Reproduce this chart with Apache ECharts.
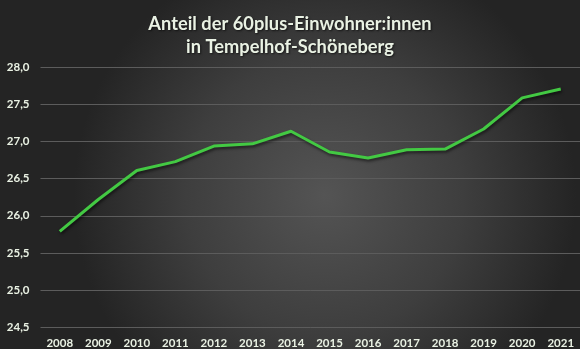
<!DOCTYPE html>
<html>
<head>
<meta charset="utf-8">
<script src="https://cdn.jsdelivr.net/npm/echarts@6/dist/echarts.min.js"></script>
<style>
  html, body { margin: 0; padding: 0; background: #2a2a2a; }
  #chart { width: 580px; height: 349px; }
</style>
</head>
<body>
<div id="chart"></div>
<script>
// Jahre und Anteil der Einwohner:innen ab 60 Jahren (in %)
const years = ['2008', '2009', '2010', '2011', '2012', '2013', '2014',
               '2015', '2016', '2017', '2018', '2019', '2020', '2021'];
const share60plus = [25.79, 26.22, 26.61, 26.73, 26.94, 26.97, 27.14,
                     26.86, 26.78, 26.89, 26.90, 27.17, 27.59, 27.71];
const titleLines = ['Anteil der 60plus-Einwohner:innen', 'in Tempelhof-Schöneberg'];

const textColor = '#eaf2e4';
const chart = echarts.init(document.getElementById('chart'), null, { renderer: 'canvas' });

chart.setOption({
  animation: false,
  backgroundColor: {
    type: 'radial', x: 0.56, y: 0.56, r: 0.72,
    colorStops: [
      { offset: 0, color: '#545454' },
      { offset: 0.55, color: '#3e3e3e' },
      { offset: 1, color: '#242424' }
    ]
  },
  title: {
    text: titleLines.join('\n'),
    left: 'center',
    top: 8,
    textStyle: {
      color: textColor,
      fontFamily: 'Lato',
      fontWeight: 'bold',
      fontSize: 18.3,
      lineHeight: 23,
      textShadowColor: 'rgba(0,0,0,0.6)',
      textShadowBlur: 2,
      textShadowOffsetX: 1,
      textShadowOffsetY: 1
    }
  },
  grid: { left: 40.5, right: -6, top: 67.5, bottom: 21, containLabel: false },
  xAxis: {
    type: 'category',
    data: years,
    boundaryGap: true,
    axisLine: { show: false },
    axisTick: { show: false },
    axisLabel: {
      color: textColor,
      fontFamily: 'Lato',
      fontWeight: 'bold',
      fontSize: 11.5,
      margin: 10
    }
  },
  yAxis: {
    type: 'value',
    min: 24.5,
    max: 28,
    interval: 0.5,
    axisLine: { show: false },
    axisTick: { show: false },
    splitLine: { lineStyle: { color: '#5c5c5c', width: 1 } },
    axisLabel: {
      color: textColor,
      fontFamily: 'Lato',
      fontWeight: 'bold',
      fontSize: 11.5,
      margin: 11,
      formatter: v => v.toFixed(1).replace('.', ',')
    }
  },
  series: [{
    type: 'line',
    data: share60plus,
    symbol: 'none',
    lineStyle: {
      color: '#43c943',
      width: 3,
      shadowColor: 'rgba(0,0,0,0.55)',
      shadowBlur: 3,
      shadowOffsetX: 1,
      shadowOffsetY: 2
    }
  }]
});
</script>
</body>
</html>
